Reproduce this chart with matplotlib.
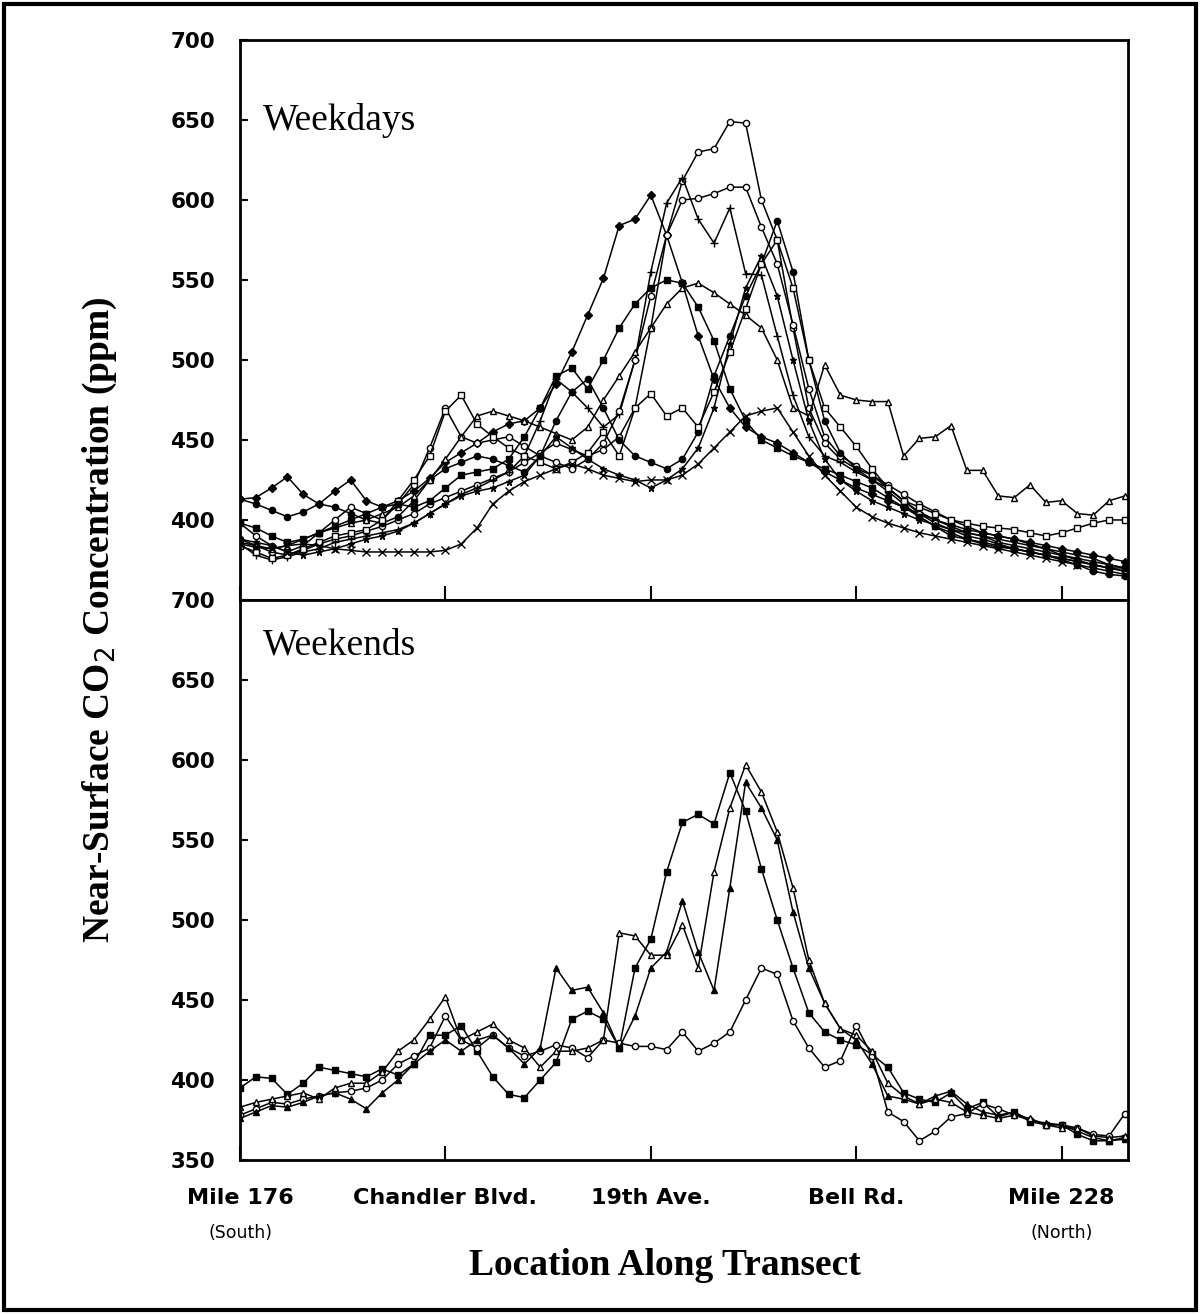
import numpy as np
import matplotlib.pyplot as plt
from matplotlib.patches import Rectangle

# sampling locations along the freeway transect (miles)
miles = np.arange(176, 233)

tick_miles = [176, 189, 202, 215, 228]
tick_names = ["Mile 176", "Chandler Blvd.", "19th Ave.", "Bell Rd.", "Mile 228"]
y_ticks = [350, 400, 450, 500, 550, 600, 650, 700]

# weekday runs (ppm)
wd1 = [388, 384, 380, 378, 381, 385, 388, 390, 393, 396,
       400, 404, 410, 414, 418, 422, 426, 430, 436, 442,
       448, 444, 440, 444, 452, 470, 520, 578, 612, 630,
       632, 649, 648, 600, 575, 520, 470, 448, 438, 432,
       428, 422, 416, 410, 405, 400, 396, 392, 390, 388,
       385, 382, 378, 375, 372, 370, 368]
wd2 = [413, 414, 420, 427, 416, 410, 418, 425, 412, 408,
       412, 418, 426, 436, 442, 448, 455, 460, 462, 470,
       485, 505, 528, 551, 584, 588, 603, 578, 548, 515,
       488, 470, 458, 452, 448, 442, 436, 430, 425, 420,
       416, 412, 408, 404, 400, 397, 394, 392, 390, 388,
       386, 384, 382, 380, 378, 376, 374]
wd3 = [385, 378, 375, 377, 380, 382, 386, 388, 390, 392,
       394, 398, 404, 410, 416, 420, 425, 430, 440, 462,
       488, 480, 470, 458, 466, 500, 555, 598, 614, 588,
       573, 595, 554, 553, 515, 478, 452, 440, 436, 430,
       425, 420, 412, 405, 400, 396, 392, 390, 386, 384,
       382, 380, 378, 376, 374, 372, 370]
wd4 = [398, 390, 384, 380, 384, 392, 400, 408, 404, 400,
       410, 422, 445, 470, 452, 448, 450, 452, 446, 440,
       436, 432, 438, 448, 468, 500, 540, 578, 600, 601,
       604, 608, 608, 583, 560, 522, 482, 452, 440, 434,
       428, 420, 412, 404, 398, 394, 390, 388, 385, 382,
       380, 378, 376, 374, 372, 370, 368]
wd5 = [413, 410, 406, 402, 405, 410, 408, 404, 400, 398,
       402, 412, 425, 432, 436, 440, 438, 434, 430, 440,
       462, 480, 488, 470, 450, 440, 436, 432, 438, 455,
       490, 515, 540, 560, 587, 555, 500, 462, 442, 432,
       425, 418, 410, 402, 396, 390, 388, 385, 383, 382,
       380, 378, 375, 372, 368, 366, 365]
wd6 = [384, 380, 376, 378, 382, 386, 390, 392, 394, 400,
       412, 425, 440, 468, 478, 460, 452, 445, 440, 436,
       432, 436, 442, 455, 440, 470, 479, 465, 470, 458,
       480, 505, 532, 560, 575, 545, 500, 470, 458, 446,
       432, 420, 412, 408, 404, 400, 398, 396, 395, 394,
       392, 390, 392, 395, 398, 400, 400]
wd7 = [386, 384, 382, 384, 388, 392, 395, 398, 400, 404,
       408, 415, 425, 438, 452, 465, 468, 465, 462, 458,
       454, 450, 458, 475, 490, 505, 520, 535, 545, 548,
       542, 535, 528, 520, 500, 470, 465, 497, 478, 475,
       474, 474, 440, 451, 452, 459, 431, 431, 415, 414,
       422, 411, 412, 404, 403, 412, 415]
wd8 = [385, 383, 382, 384, 385, 384, 382, 381, 380, 380,
       380, 380, 380, 381, 385, 395, 410, 418, 424, 428,
       432, 435, 432, 428, 426, 424, 425, 425, 428, 435,
       445, 455, 465, 468, 470, 455, 440, 428, 418, 408,
       402, 398, 395, 392, 390, 388, 386, 384, 382, 380,
       378, 376, 374, 372, 370, 368, 366]
wd9 = [398, 395, 390, 386, 388, 392, 396, 400, 404, 408,
       410, 408, 412, 420, 428, 430, 432, 438, 452, 470,
       490, 495, 482, 500, 520, 535, 545, 550, 548, 533,
       512, 482, 462, 450, 445, 440, 436, 432, 428, 424,
       420, 414, 408, 402, 396, 392, 388, 386, 384, 382,
       380, 378, 376, 374, 372, 370, 370]
wd10 = [388, 386, 384, 380, 378, 380, 382, 385, 388, 390,
        393, 398, 404, 410, 415, 418, 420, 424, 428, 440,
        452, 445, 438, 432, 428, 425, 420, 425, 432, 445,
        470, 510, 545, 565, 540, 500, 462, 438, 425, 418,
        412, 408, 404, 400, 397, 394, 392, 390, 388, 386,
        384, 382, 380, 378, 376, 372, 370]

# weekend runs (ppm)
we1 = [395, 402, 401, 391, 398, 408, 406, 404, 402, 407,
       403, 410, 428, 428, 434, 418, 402, 391, 389, 400,
       411, 438, 443, 438, 420, 470, 488, 530, 561, 566,
       560, 592, 568, 532, 500, 470, 442, 430, 425, 422,
       416, 408, 392, 388, 386, 392, 382, 386, 377, 380,
       374, 372, 372, 366, 362, 362, 364]
we2 = [378, 382, 386, 385, 388, 390, 392, 393, 395, 400,
       410, 415, 420, 440, 425, 420, 428, 420, 415, 418,
       422, 420, 414, 425, 423, 421, 421, 419, 430, 418,
       423, 430, 450, 470, 466, 437, 420, 408, 412, 434,
       415, 380, 374, 362, 368, 377, 379, 385, 382, 378,
       375, 372, 372, 370, 366, 365, 379]
we3 = [376, 380, 384, 383, 386, 390, 392, 388, 382, 392,
       400, 410, 418, 425, 418, 425, 428, 420, 410, 420,
       470, 456, 458, 442, 420, 440, 470, 480, 512, 480,
       456, 520, 586, 570, 550, 505, 470, 448, 432, 425,
       410, 390, 388, 385, 390, 393, 385, 380, 378, 380,
       375, 373, 372, 368, 364, 362, 363]
we4 = [383, 386, 388, 390, 392, 388, 395, 398, 398, 405,
       418, 425, 438, 452, 425, 430, 435, 425, 420, 408,
       418, 418, 420, 425, 492, 490, 478, 478, 497, 470,
       530, 570, 597, 580, 555, 520, 475, 448, 432, 428,
       418, 398, 390, 385, 388, 386, 380, 378, 376, 378,
       376, 372, 370, 370, 365, 364, 365]

weekday_runs = [wd1, wd2, wd3, wd4, wd5, wd6, wd7, wd8, wd9, wd10]
weekend_runs = [we1, we2, we3, we4]

# marker, filled?
weekday_marks = [("o", False), ("D", True), ("+", True), ("o", False), ("o", True),
                 ("s", False), ("^", False), ("x", True), ("s", True), ("*", True)]
weekend_marks = [("s", True), ("o", False), ("^", True), ("^", False)]

fig = plt.figure(figsize=(12, 13.14), dpi=100)
ax1 = fig.add_axes([0.2, 0.5434, 0.74, 0.4262])
ax2 = fig.add_axes([0.2, 0.1172, 0.74, 0.4262])


def draw_runs(ax, runs, marks):
    for run, (m, filled) in zip(runs, marks):
        ms = 6 if m in ("+", "x") else 4.5
        ax.plot(miles, run, color="black", lw=1.1, marker=m, ms=ms,
                mfc="black" if filled else "white", mec="black", mew=1.0)


draw_runs(ax1, weekday_runs, weekday_marks)
draw_runs(ax2, weekend_runs, weekend_marks)

for ax in (ax1, ax2):
    ax.set_xlim(176, 232.2)
    ax.set_ylim(350, 700)
    ax.set_yticks(y_ticks)
    ax.set_xticks(tick_miles)
    for s in ax.spines.values():
        s.set_linewidth(2)
    ax.tick_params(axis="y", direction="in", length=6, width=1.5, pad=18,
                   labelsize=15.5)
    ax.tick_params(axis="x", direction="in", length=10, width=1.5, pad=20,
                   labelsize=16)
    for lab in ax.get_yticklabels():
        lab.set_fontweight("bold")

ax1.set_yticklabels([""] + [str(v) for v in y_ticks[1:]], fontweight="bold")
ax1.set_xticklabels([])
ax2.set_xticklabels(tick_names, fontweight="bold")

ax2.text(176, -0.13, "(South)", transform=ax2.get_xaxis_transform(),
         ha="center", va="center", fontsize=12.5, clip_on=False)
ax2.text(228, -0.13, "(North)", transform=ax2.get_xaxis_transform(),
         ha="center", va="center", fontsize=12.5, clip_on=False)

ax1.text(0.026, 0.857, "Weekdays", transform=ax1.transAxes, fontsize=27,
         family="Liberation Serif", va="center")
ax2.text(0.026, 0.92, "Weekends", transform=ax2.transAxes, fontsize=27,
         family="Liberation Serif", va="center")

fig.text(0.083, 0.528, "Near-Surface CO$_2$ Concentration (ppm)", rotation=90,
         ha="center", va="center", fontsize=27, fontweight="bold",
         family="Liberation Serif")
fig.text(0.554, 0.037, "Location Along Transect", ha="center", va="center",
         fontsize=27, fontweight="bold", family="Liberation Serif")

plt.rcParams["mathtext.fontset"] = "custom"

fig.patches.append(Rectangle((0.003, 0.003), 0.994, 0.994, transform=fig.transFigure,
                             fill=False, lw=3, edgecolor="black"))

fig.savefig("out.png", dpi=100, facecolor="white")
